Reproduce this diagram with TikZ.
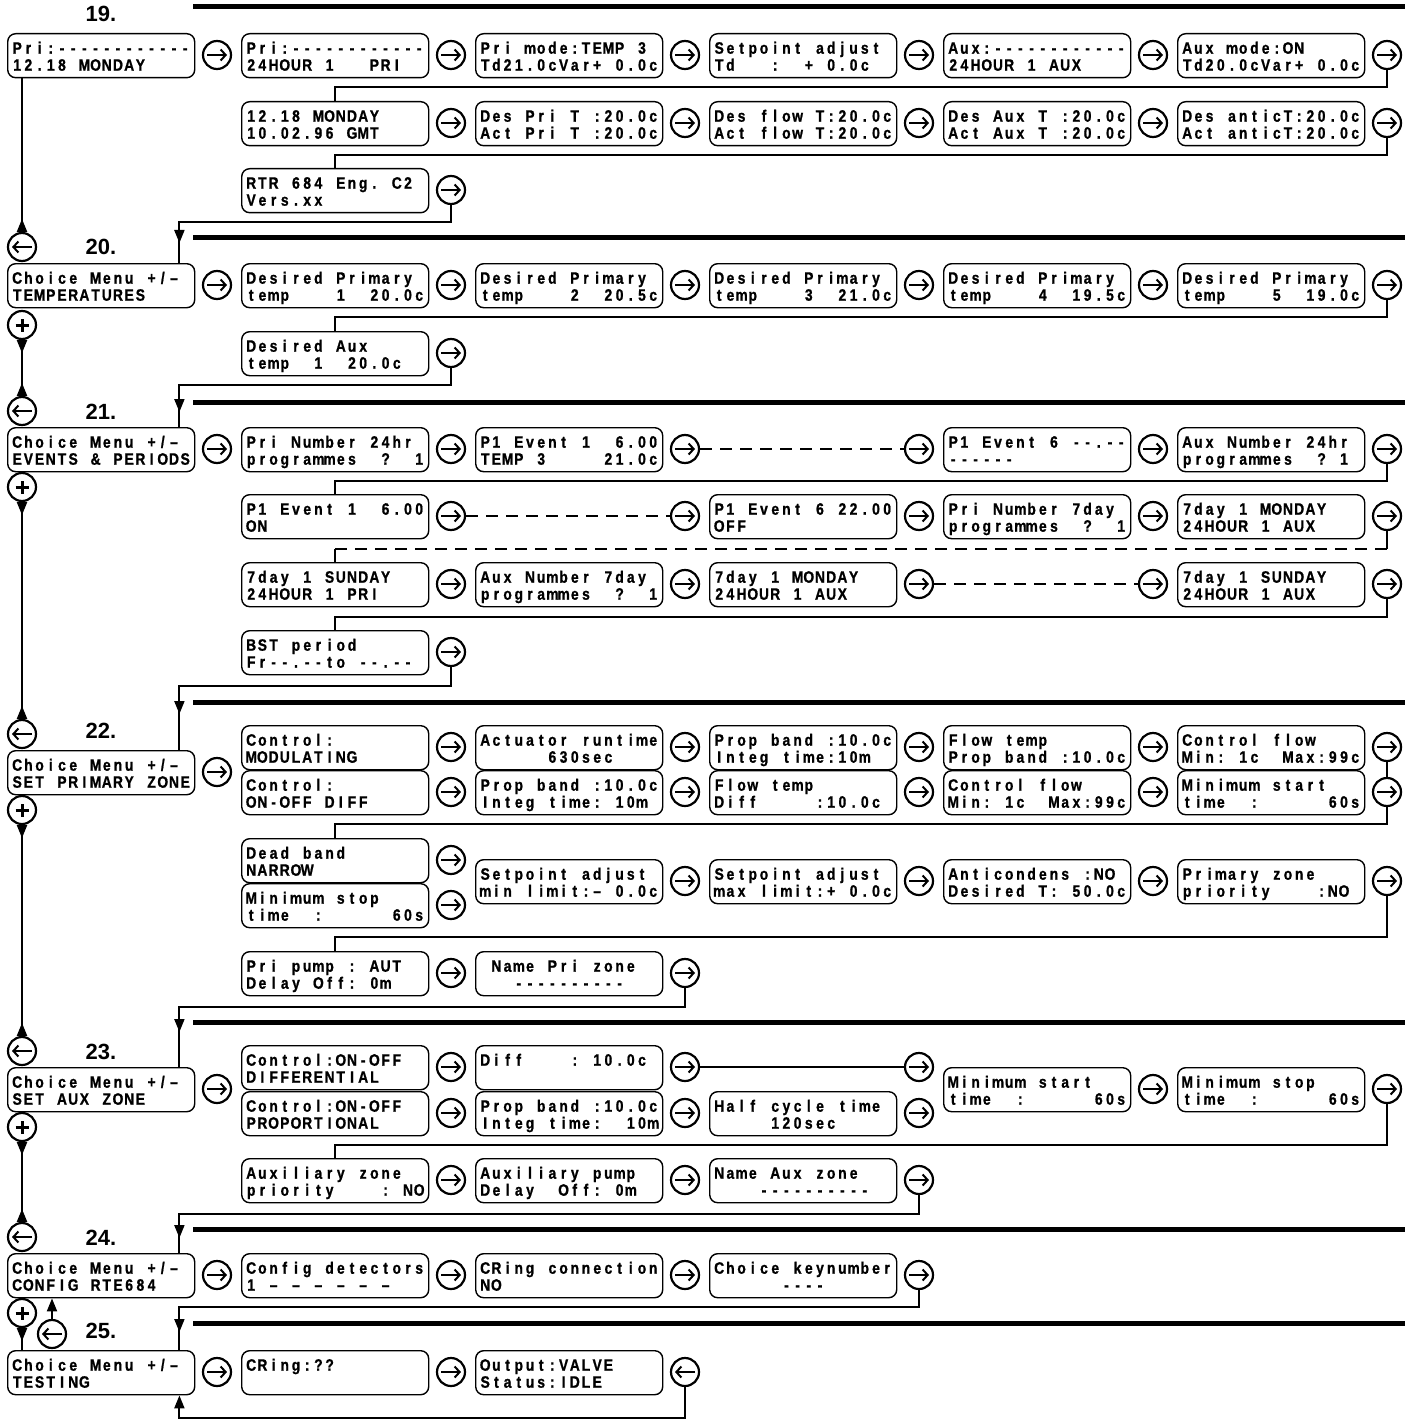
\documentclass[tikz,border=0pt]{standalone}
\usepackage{fontspec}
\usetikzlibrary{arrows.meta,decorations.markings}
\newfontfamily\lcdfont{Liberation Sans}[FakeStretch=0.84,FakeBold=1.0]
\newfontfamily\numfont{Liberation Sans}
\ExplSyntaxOn
\NewDocumentCommand \lcd { m } { \str_map_inline:nn { #1 } { \lcdcell { ##1 } } }
\ExplSyntaxOff
\newcommand\lcdcell[1]{\makebox[11.2pt][c]{\ifnum`#1=126 \else#1\fi}}
\newcommand\lcdtwo[2]{\vbox{\offinterlineskip
  \hbox to 179.2pt{\vrule height15pt depth2pt width0pt\smash{\lcd{#1}}\hss}%
  \hbox to 179.2pt{\vrule height15pt depth2pt width0pt\smash{\lcd{#2}}\hss}}}
\tikzset{
 lcdbox/.style={draw,line width=1.4pt,rounded corners=8pt,minimum width=187pt,minimum height=44pt,inner xsep=3pt,inner ysep=0pt,anchor=north west,font=\lcdfont\bfseries\fontsize{16.5}{17}\selectfont},
 ring/.style={circle,draw,line width=2.2pt,minimum size=28pt,inner sep=0pt},
 fwd/.style={ring,path picture={\draw[line width=2pt,-{Straight Barb[length=5pt,width=11pt]}] ([xshift=-10pt]path picture bounding box.center) -- ([xshift=10pt]path picture bounding box.center);}},
 bwd/.style={ring,path picture={\draw[line width=2pt,-{Straight Barb[length=5pt,width=11pt]}] ([xshift=10pt]path picture bounding box.center) -- ([xshift=-10pt]path picture bounding box.center);}},
 pls/.style={ring,path picture={\draw[line width=3pt] ([xshift=-6.5pt]path picture bounding box.center) -- ([xshift=6.5pt]path picture bounding box.center) ([yshift=-6.5pt]path picture bounding box.center) -- ([yshift=6.5pt]path picture bounding box.center);}},
 wire/.style={line width=2pt},
 dashwire/.style={line width=2pt,dash pattern=on 12pt off 8pt},
 sect/.style={line width=5pt},
 lab/.style={font=\numfont\bfseries\fontsize{22}{22}\selectfont,inner sep=0pt},
 midtri/.style={postaction={decorate,decoration={markings,mark=at position #1 with {\arrow{Triangle[length=13pt,width=10pt]}}}}},
 upspine/.style={wire,-{Triangle[reversed,length=13pt,width=10pt]}},
 bothspine/.style={wire,{Triangle[reversed,length=13pt,width=10pt]}-{Triangle[reversed,length=13pt,width=10pt]}},
}
\newcommand\bxx[5]{\node[lcdbox] (#1) at (#2,#3) {\lcdtwo{#4}{#5}};}
\newcommand\fwc[3]{\node[fwd] (#1) at (#2,#3) {};}
\begin{document}
\begin{tikzpicture}[x=1pt,y=-1pt]
\path[fill=white,use as bounding box] (0,0) rectangle (1412,1423);
% section rules
\foreach \yy in {7,238,402,702,1022,1229,1323} \draw[sect] (193,\yy) -- (1405,\yy);
% labels
\node[lab] (n19) at (101,14) {19.};
\node[lab] (n20) at (101,247) {20.};
\node[lab] (n21) at (101,412) {21.};
\node[lab] (n22) at (101,731) {22.};
\node[lab] (n23) at (101,1052) {23.};
\node[lab] (n24) at (101,1238) {24.};
\node[lab] (n25) at (101,1331) {25.};
% left circles
\node[bwd] (back20) at (22,247) {};
\node[pls] (pls20) at (22,325) {};
\node[bwd] (back21) at (22,411) {};
\node[pls] (pls21) at (22,487) {};
\node[bwd] (back22) at (22,734) {};
\node[pls] (pls22) at (22,810) {};
\node[bwd] (back23) at (22,1051) {};
\node[pls] (pls23) at (22,1127) {};
\node[bwd] (back24) at (22,1237) {};
\node[pls] (pls24) at (22,1313) {};
\node[bwd] (back25) at (52,1334) {};
% ===== 19
\bxx{m19}{7}{33}{Pri:------------}{12.18 MONDAY}\fwc{f19m}{217}{55}
\bxx{b19a}{241}{33}{Pri:------------}{24HOUR 1~~~PRI}\fwc{f19a}{451}{55}
\bxx{b19b}{475}{33}{Pri mode:TEMP 3}{Td21.0cVar+ 0.0c}\fwc{f19b}{685}{55}
\bxx{b19c}{709}{33}{Setpoint adjust}{Td~~~:~~+ 0.0c}\fwc{f19c}{919}{55}
\bxx{b19d}{943}{33}{Aux:------------}{24HOUR 1 AUX}\fwc{f19d}{1153}{55}
\bxx{b19e}{1177}{33}{Aux mode:ON}{Td20.0cVar+ 0.0c}\fwc{f19e}{1387}{55}
\bxx{b19f}{241}{101}{12.18 MONDAY}{10.02.96 GMT}\fwc{f19f}{451}{123}
\bxx{b19g}{475}{101}{Des Pri T :20.0c}{Act Pri T :20.0c}\fwc{f19g}{685}{123}
\bxx{b19h}{709}{101}{Des flow T:20.0c}{Act flow T:20.0c}\fwc{f19h}{919}{123}
\bxx{b19i}{943}{101}{Des Aux T :20.0c}{Act Aux T :20.0c}\fwc{f19i}{1153}{123}
\bxx{b19j}{1177}{101}{Des anticT:20.0c}{Act anticT:20.0c}\fwc{f19j}{1387}{123}
\bxx{b19k}{241}{168}{RTR 684 Eng. C2}{Vers.xx}\fwc{f19k}{451}{190}
% ===== 20
\bxx{m20}{7}{263}{Choice Menu +/–}{TEMPERATURES}\fwc{f20m}{217}{285}
\bxx{b20a}{241}{263}{Desired Primary}{temp~~~~1~~20.0c}\fwc{f20a}{451}{285}
\bxx{b20b}{475}{263}{Desired Primary}{temp~~~~2~~20.5c}\fwc{f20b}{685}{285}
\bxx{b20c}{709}{263}{Desired Primary}{temp~~~~3~~21.0c}\fwc{f20c}{919}{285}
\bxx{b20d}{943}{263}{Desired Primary}{temp~~~~4~~19.5c}\fwc{f20d}{1153}{285}
\bxx{b20e}{1177}{263}{Desired Primary}{temp~~~~5~~19.0c}\fwc{f20e}{1387}{285}
\bxx{b20f}{241}{331}{Desired Aux}{temp~~1~~20.0c}\fwc{f20f}{451}{353}
% ===== 21
\bxx{m21}{7}{427}{Choice Menu +/–}{EVENTS & PERIODS}\fwc{f21m}{217}{449}
\bxx{b21a}{241}{427}{Pri Number 24hr}{programmes~~?~~1}\fwc{f21a}{451}{449}
\bxx{b21b}{475}{427}{P1 Event 1~~6.00}{TEMP 3~~~~~21.0c}\fwc{f21b}{685}{449}
\fwc{f21c}{919}{449}
\bxx{b21d}{943}{427}{P1 Event 6 --.--}{------}\fwc{f21d}{1153}{449}
\bxx{b21e}{1177}{427}{Aux Number 24hr}{programmes~~?~1}\fwc{f21e}{1387}{449}
\bxx{b21f}{241}{494}{P1 Event 1~~6.00}{ON}\fwc{f21f}{451}{516}
\fwc{f21g}{685}{516}
\bxx{b21h}{709}{494}{P1 Event 6 22.00}{OFF}\fwc{f21h}{919}{516}
\bxx{b21i}{943}{494}{Pri Number 7day}{programmes~~?~~1}\fwc{f21i}{1153}{516}
\bxx{b21j}{1177}{494}{7day 1 MONDAY}{24HOUR 1 AUX}\fwc{f21j}{1387}{516}
\bxx{b21k}{241}{562}{7day 1 SUNDAY}{24HOUR 1 PRI}\fwc{f21k}{451}{584}
\bxx{b21l}{475}{562}{Aux Number 7day}{programmes~~?~~1}\fwc{f21l}{685}{584}
\bxx{b21m}{709}{562}{7day 1 MONDAY}{24HOUR 1 AUX}\fwc{f21m2}{919}{584}
\fwc{f21n}{1153}{584}
\bxx{b21o}{1177}{562}{7day 1 SUNDAY}{24HOUR 1 AUX}\fwc{f21o}{1387}{584}
\bxx{b21p}{241}{630}{BST period}{Fr--.--to --.--}\fwc{f21p}{451}{652}
% ===== 22
\bxx{m22}{7}{750}{Choice Menu +/–}{SET PRIMARY ZONE}\fwc{f22m}{217}{772}
\bxx{b22a}{241}{725}{Control:}{MODULATING}\fwc{f22a}{451}{747}
\bxx{b22b}{475}{725}{Actuator runtime}{~~~~~~630sec}\fwc{f22b}{685}{747}
\bxx{b22c}{709}{725}{Prop band :10.0c}{Integ time:10m}\fwc{f22c}{919}{747}
\bxx{b22d}{943}{725}{Flow temp}{Prop band :10.0c}\fwc{f22d}{1153}{747}
\bxx{b22e}{1177}{725}{Control flow}{Min: 1c~~Max:99c}\fwc{f22e}{1387}{747}
\bxx{b22f}{241}{770}{Control:}{ON-OFF DIFF}\fwc{f22f}{451}{792}
\bxx{b22g}{475}{770}{Prop band :10.0c}{Integ time: 10m}\fwc{f22g}{685}{792}
\bxx{b22h}{709}{770}{Flow temp}{Diff~~~~~:10.0c}\fwc{f22h}{919}{792}
\bxx{b22i}{943}{770}{Control flow}{Min: 1c~~Max:99c}\fwc{f22i}{1153}{792}
\bxx{b22j}{1177}{770}{Minimum start}{time~~:~~~~~~60s}\fwc{f22j}{1387}{792}
\bxx{b22k}{241}{838}{Dead band}{NARROW}\fwc{f22k}{451}{860}
\bxx{b22l}{241}{883}{Minimum stop}{time~~:~~~~~~60s}\fwc{f22l}{451}{905}
\bxx{b22m}{475}{859}{Setpoint adjust}{min limit:– 0.0c}\fwc{f22m2}{685}{881}
\bxx{b22n}{709}{859}{Setpoint adjust}{max limit:+ 0.0c}\fwc{f22n}{919}{881}
\bxx{b22o}{943}{859}{Anticondens :NO}{Desired T: 50.0c}\fwc{f22o}{1153}{881}
\bxx{b22p}{1177}{859}{Primary zone}{priority~~~~:NO}\fwc{f22p}{1387}{881}
\bxx{b22q}{241}{951}{Pri pump : AUT}{Delay Off: 0m}\fwc{f22q}{451}{973}
\bxx{b22r}{475}{951}{~Name Pri zone}{~~~----------}\fwc{f22r}{685}{973}
% ===== 23
\bxx{m23}{7}{1067}{Choice Menu +/–}{SET AUX ZONE}\fwc{f23m}{217}{1089}
\bxx{b23a}{241}{1045}{Control:ON-OFF}{DIFFERENTIAL}\fwc{f23a}{451}{1067}
\bxx{b23b}{475}{1045}{Diff~~~~: 10.0c}{}\fwc{f23b}{685}{1067}
\fwc{f23c}{919}{1067}
\bxx{b23d}{241}{1091}{Control:ON-OFF}{PROPORTIONAL}\fwc{f23d}{451}{1113}
\bxx{b23e}{475}{1091}{Prop band :10.0c}{Integ time:~~10m}\fwc{f23e}{685}{1113}
\bxx{b23f}{709}{1091}{Half cycle time}{~~~~~120sec}\fwc{f23f}{919}{1113}
\bxx{b23g}{943}{1067}{Minimum start}{time~~:~~~~~~60s}\fwc{f23g}{1153}{1089}
\bxx{b23h}{1177}{1067}{Minimum stop}{time~~:~~~~~~60s}\fwc{f23h}{1387}{1089}
\bxx{b23i}{241}{1158}{Auxiliary zone}{priority~~~~: NO}\fwc{f23i}{451}{1180}
\bxx{b23j}{475}{1158}{Auxiliary pump}{Delay~~Off: 0m}\fwc{f23j}{685}{1180}
\bxx{b23k}{709}{1158}{Name Aux zone}{~~~~----------}\fwc{f23k}{919}{1180}
% ===== 24
\bxx{m24}{7}{1253}{Choice Menu +/–}{CONFIG RTE684}\fwc{f24m}{217}{1275}
\bxx{b24a}{241}{1253}{Config detectors}{1 – – – – – –}\fwc{f24a}{451}{1275}
\bxx{b24b}{475}{1253}{CRing connection}{NO}\fwc{f24b}{685}{1275}
\bxx{b24c}{709}{1253}{Choice keynumber}{~~~~~~----}\fwc{f24c}{919}{1275}
% ===== 25
\bxx{m25}{7}{1350}{Choice Menu +/–}{TESTING}\fwc{f25m}{217}{1372}
\bxx{b25a}{241}{1350}{CRing:??}{}\fwc{f25a}{451}{1372}
\bxx{b25b}{475}{1350}{Output:VALVE}{Status:IDLE}
\node[bwd] (f25b) at (685,1372) {};
% ===== connectors, right side
\draw[wire] (f19e.south) -- ++(0,17) -| (b19f.north);
\draw[wire] (f19j.south) -- ++(0,17) -| (b19k.north);
\draw[wire,midtri=-20pt] (f19k.south) -- ++(0,17) -| ([xshift=-16pt]m20.north east);
\draw[wire] (f20e.south) -- ++(0,17) -| (b20f.north);
\draw[wire,midtri=-15pt] (f20f.south) -- ++(0,17) -| ([xshift=-16pt]m21.north east);
\draw[dashwire] (f21b.east) -- (f21c.west);
\draw[wire] (f21e.south) -- ++(0,17) -| (b21f.north);
\draw[dashwire] (f21f.east) -- (f21g.west);
\draw[wire] (f21j.south) -- ++(0,18) coordinate (d1);
\draw[dashwire] (d1) -- (d1 -| b21k.north) coordinate (d2);
\draw[wire] (d2) -- (b21k.north);
\draw[dashwire] (f21m2.east) -- (f21n.west);
\draw[wire] (f21o.south) -- ++(0,18) -| (b21p.north);
\draw[wire,midtri=-36pt] (f21p.south) -- ++(0,19) -| ([xshift=-16pt]m22.north east);
\draw[wire] (f22e.south) -- (f22j.north);
\draw[wire] (f22j.south) -- ++(0,17) -| (b22k.north);
\draw[wire] (f22p.south) -- ++(0,41) -| (b22q.north);
\draw[wire,midtri=-35pt] (f22r.south) -- ++(0,19) -| ([xshift=-16pt]m23.north east);
\draw[wire] (f23b.east) -- (f23c.west);
\draw[wire] (f23h.south) -- ++(0,41) -| (b23i.north);
\draw[wire,midtri=-15pt] (f23k.south) -- ++(0,19) -| ([xshift=-16pt]m24.north east);
\draw[wire,midtri=-18pt] (f24c.south) -- ++(0,17) -| ([xshift=-16pt]m25.north east);
\draw[wire,-{Triangle[length=13pt,width=10pt]}] (f25b.south) -- ++(0,31) -| ([xshift=-16pt]m25.south east);
% ===== left spine
\draw[upspine] (back20 |- m19.south) -- (back20.north);
\draw[bothspine] (pls20.south) -- (back21.north);
\draw[bothspine] (pls21.south) -- (back22.north);
\draw[bothspine] (pls22.south) -- (back23.north);
\draw[bothspine] (pls23.south) -- (back24.north);
\draw[wire,{Triangle[reversed,length=13pt,width=10pt]}-] (pls24.south) -- (pls24 |- m25.north);
\draw[wire,-{Triangle[length=13pt,width=10pt]}] (back25.north) -- (back25 |- m24.south);
\end{tikzpicture}
\end{document}
